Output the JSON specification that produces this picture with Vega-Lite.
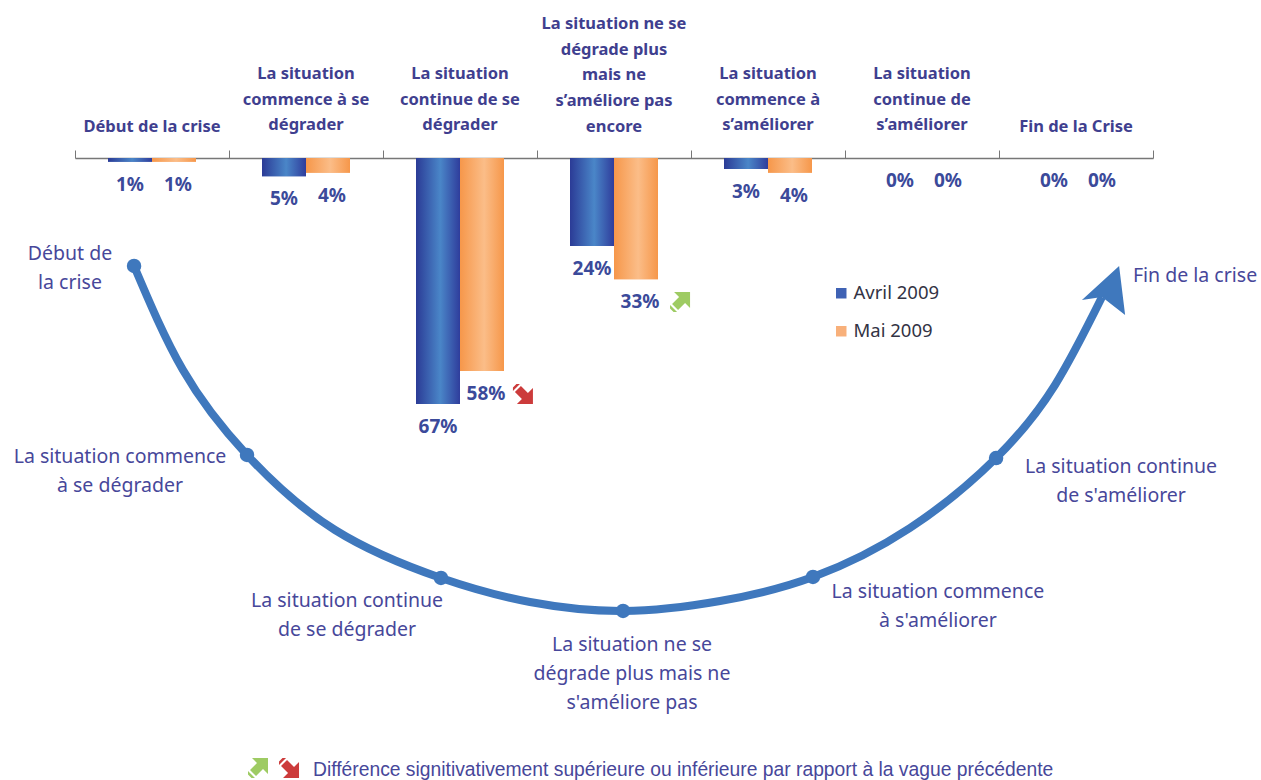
{
"$schema":"https://vega.github.io/schema/vega-lite/v6.json",
"width":1261,"height":780,"padding":0,
"autosize":{"type":"fit","contains":"padding"},
"background":"white",
"datasets":{
"bars":[
{"etape":"Début de la crise","vague":"Avril 2009","part":0.01},{"etape":"Début de la crise","vague":"Mai 2009","part":0.01},
{"etape":"La situation|commence à se|dégrader","vague":"Avril 2009","part":0.05},{"etape":"La situation|commence à se|dégrader","vague":"Mai 2009","part":0.04},
{"etape":"La situation|continue de se|dégrader","vague":"Avril 2009","part":0.67},{"etape":"La situation|continue de se|dégrader","vague":"Mai 2009","part":0.58},
{"etape":"La situation ne se|dégrade plus|mais ne|s’améliore pas|encore","vague":"Avril 2009","part":0.24},{"etape":"La situation ne se|dégrade plus|mais ne|s’améliore pas|encore","vague":"Mai 2009","part":0.33},
{"etape":"La situation|commence à|s’améliorer","vague":"Avril 2009","part":0.03},{"etape":"La situation|commence à|s’améliorer","vague":"Mai 2009","part":0.04},
{"etape":"La situation|continue de|s’améliorer","vague":"Avril 2009","part":0},{"etape":"La situation|continue de|s’améliorer","vague":"Mai 2009","part":0},
{"etape":"Fin de la Crise","vague":"Avril 2009","part":0},{"etape":"Fin de la Crise","vague":"Mai 2009","part":0}
],
"entetes":[
{"etape":"Début de la crise","h":-0.0845},
{"etape":"La situation|commence à se|dégrader","h":-0.2288},
{"etape":"La situation|continue de se|dégrader","h":-0.2288},
{"etape":"La situation ne se|dégrade plus|mais ne|s’améliore pas|encore","h":-0.3650},
{"etape":"La situation|commence à|s’améliorer","h":-0.2288},
{"etape":"La situation|continue de|s’améliorer","h":-0.2288},
{"etape":"Fin de la Crise","h":-0.0845}
],
"courbe":[
{"t":10.63,"n":65.90},{"t":14.51,"n":52.56},{"t":19.59,"n":41.67},{"t":26.57,"n":32.05},{"t":34.97,"n":25.90},{"t":42.03,"n":22.82},{"t":49.41,"n":21.67},{"t":57.10,"n":22.95},{"t":64.47,"n":26.03},{"t":72.16,"n":32.31},{"t":78.99,"n":41.28},{"t":83.66,"n":50.64},{"t":87.39,"n":61.92}
],
"noeuds":[
{"t":10.63,"n":65.90},{"t":19.59,"n":41.67},{"t":34.97,"n":25.90},{"t":49.41,"n":21.67},{"t":64.47,"n":26.03},{"t":78.99,"n":41.28}
],
"textes":[
{"t":5.55,"n":67.44,"texte":"Début de|la crise"},
{"t":9.52,"n":41.41,"texte":"La situation commence|à se dégrader"},
{"t":27.52,"n":22.95,"texte":"La situation continue|de se dégrader"},
{"t":50.12,"n":17.31,"texte":"La situation ne se|dégrade plus mais ne|s'améliore pas"},
{"t":74.38,"n":24.10,"texte":"La situation commence|à s'améliorer"},
{"t":88.90,"n":40.13,"texte":"La situation continue|de s'améliorer"},
{"t":94.77,"n":64.62,"texte":"Fin de la crise"}
],
"hausse":[{"t":53.93,"n":61.28},{"t":20.46,"n":1.54}],
"baisse":[{"t":41.47,"n":49.49},{"t":22.92,"n":1.54}]
},
"layer":[
{
"layer":[
{"data":{"name":"bars"},
 "mark":{"type":"bar"},
 "encoding":{
  "x":{"field":"etape","type":"nominal","sort":null,
   "scale":{"type":"band","range":[75,1153],"paddingInner":0,"paddingOuter":0},
   "title":null,
   "axis":{"orient":"top","offset":-158,"labels":false,"tickBand":"extent","tickColor":"#777777","tickSize":8,"tickWidth":1,"domainColor":"#777777","domainWidth":1.5,"grid":false,"ticks":true}},
  "xOffset":{"field":"vague","type":"nominal","scale":{"paddingInner":0,"paddingOuter":0.75}},
  "y":{"field":"part","type":"quantitative","stack":null,"scale":{"domain":[0,0.67],"range":[158,404],"nice":false,"zero":true},"axis":null},
  "color":{"field":"vague","type":"nominal","scale":{"domain":["Avril 2009","Mai 2009"],"range":["#3f62b4","#f8b07a"]},
  "legend":{"title":null,"orient":"none","legendX":832,"legendY":284,"symbolType":"square","symbolSize":110,"labelFont":"Noto Sans","labelFontSize":18.5,"labelColor":"#333344","rowPadding":19,"labelOffset":3}}
 }},
{"data":{"name":"bars"},"transform":[{"filter":"datum.vague==='Avril 2009'"}],
 "mark":{"type":"bar","fill":{"gradient":"linear","x1":0,"y1":0,"x2":1,"y2":0,"stops":[{"offset":0,"color":"#2b3b96"},{"offset":0.55,"color":"#4a86c8"},{"offset":1,"color":"#2f3d9c"}]}},
 "encoding":{"x":{"field":"etape","type":"nominal","sort":null},"xOffset":{"field":"vague","type":"nominal"},"y":{"field":"part","type":"quantitative","stack":null}}},
{"data":{"name":"bars"},"transform":[{"filter":"datum.vague==='Mai 2009'"}],
 "mark":{"type":"bar","fill":{"gradient":"linear","x1":0,"y1":0,"x2":1,"y2":0,"stops":[{"offset":0,"color":"#f6974a"},{"offset":0.55,"color":"#fbbd88"},{"offset":1,"color":"#f6974a"}]}},
 "encoding":{"x":{"field":"etape","type":"nominal","sort":null},"xOffset":{"field":"vague","type":"nominal"},"y":{"field":"part","type":"quantitative","stack":null}}},
{"data":{"name":"entetes"},
 "mark":{"type":"text","font":"Noto Sans","fontWeight":"bold","fontSize":16.5,"color":"#3f3f8f","align":"center","baseline":"middle","lineBreak":"|","lineHeight":25.75},
 "encoding":{
  "x":{"field":"etape","type":"nominal","sort":null},
  "y":{"field":"h","type":"quantitative"},
  "text":{"field":"etape"}
 }},
{"data":{"name":"bars"},"transform":[{"filter":"datum.vague==='Avril 2009'"}],
 "mark":{"type":"text","font":"Noto Sans","fontWeight":"bold","fontSize":19,"color":"#3b4a9a","baseline":"middle","dy":23},
 "encoding":{
  "x":{"field":"etape","type":"nominal","sort":null},
  "xOffset":{"field":"vague","type":"nominal"},
  "y":{"field":"part","type":"quantitative"},
  "text":{"field":"part","type":"quantitative","format":".0%"}
 }},
{"data":{"name":"bars"},"transform":[{"filter":"datum.vague==='Mai 2009'"}],
 "mark":{"type":"text","font":"Noto Sans","fontWeight":"bold","fontSize":19,"color":"#3b4a9a","baseline":"middle","dy":23,"dx":4},
 "encoding":{
  "x":{"field":"etape","type":"nominal","sort":null},
  "xOffset":{"field":"vague","type":"nominal"},
  "y":{"field":"part","type":"quantitative"},
  "text":{"field":"part","type":"quantitative","format":".0%"}
 }}
]},
{
"layer":[
{"data":{"name":"courbe"},
 "mark":{"type":"line","color":"#3f78bd","strokeWidth":8,"interpolate":"natural"},
 "encoding":{
  "x":{"field":"t","type":"quantitative","sort":null,"scale":{"domain":[0,100],"range":[0,1261],"nice":false,"zero":false},"axis":null},
  "y":{"field":"n","type":"quantitative","scale":{"domain":[0,100],"range":[780,0],"nice":false,"zero":false},"axis":null},
  "order":{"field":"t","type":"quantitative"}
 }},
{"data":{"name":"noeuds"},
 "mark":{"type":"circle","color":"#3f78bd","size":210,"opacity":1},
 "encoding":{"x":{"field":"t","type":"quantitative"},"y":{"field":"n","type":"quantitative"}}},
{"data":{"values":[{"t":87.63,"n":62.82}]},
 "mark":{"type":"point","filled":true,"opacity":1,"color":"#3f78bd","size":3600,"shape":"M0.47 -0.8 L-0.77 0.33 L-0.1 0.23 L0.67 0.83 Z"},
 "encoding":{"x":{"field":"t","type":"quantitative"},"y":{"field":"n","type":"quantitative"}}},
{"data":{"name":"textes"},
 "mark":{"type":"text","font":"Noto Sans","fontSize":19.5,"color":"#47479a","align":"center","baseline":"middle","lineBreak":"|","lineHeight":29},
 "encoding":{"x":{"field":"t","type":"quantitative"},"y":{"field":"n","type":"quantitative"},"text":{"field":"texte"}}},
{"data":{"values":[{"t":24.82,"n":1.28,"texte":"Différence signitivativement supérieure ou inférieure par rapport à la vague précédente"}]},
 "mark":{"type":"text","font":"Liberation Sans","fontSize":19.3,"color":"#47479a","align":"left","baseline":"middle"},
 "encoding":{"x":{"field":"t","type":"quantitative"},"y":{"field":"n","type":"quantitative"},"text":{"field":"texte"}}},
{"data":{"name":"hausse"},
 "mark":{"type":"point","filled":true,"opacity":1,"color":"#9ecb63","size":400,"shape":"M1 -1 L1 0.6 L0.5 0.1 L-0.2 0.8 L-0.8 0.2 L-0.1 -0.5 L-0.6 -1 Z M-1 0.3 L-0.3 1 L-0.65 1 L-1 0.65 Z"},
 "encoding":{"x":{"field":"t","type":"quantitative"},"y":{"field":"n","type":"quantitative"}}},
{"data":{"name":"baisse"},
 "mark":{"type":"point","filled":true,"opacity":1,"color":"#cc3b3b","size":400,"shape":"M1 1 L-0.6 1 L-0.1 0.5 L-0.8 -0.2 L-0.2 -0.8 L0.5 -0.1 L1 -0.6 Z M-0.3 -1 L-1 -0.3 L-1 -0.65 L-0.65 -1 Z"},
 "encoding":{"x":{"field":"t","type":"quantitative"},"y":{"field":"n","type":"quantitative"}}}
]}
],
"resolve":{"scale":{"x":"independent","y":"independent"}},
"config":{"view":{"stroke":null}}
}
